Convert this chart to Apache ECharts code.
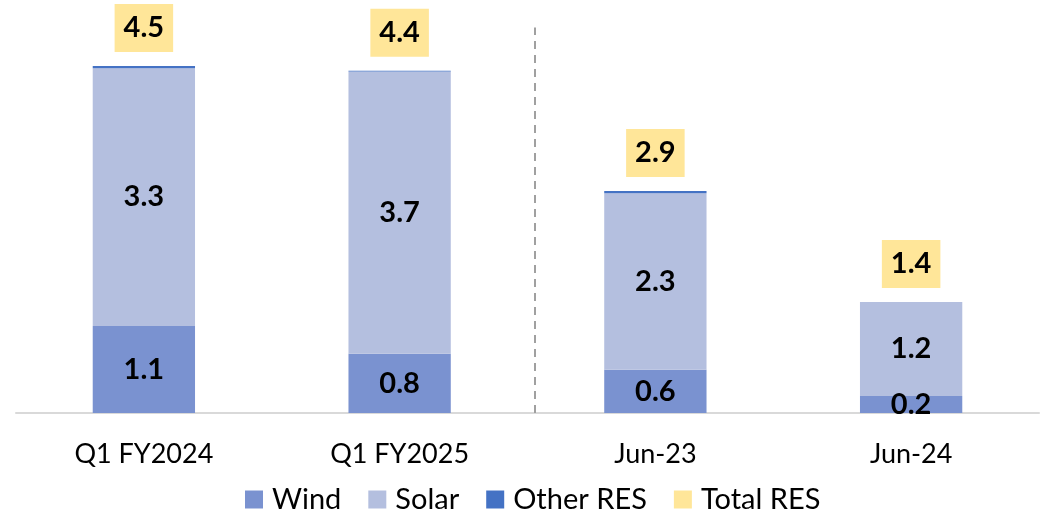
<!DOCTYPE html>
<html>
<head>
<meta charset="utf-8">
<script src="https://cdn.jsdelivr.net/npm/echarts@6/dist/echarts.min.js"></script>
<style>
  html, body { margin: 0; padding: 0; background: #fff; }
  #chart { width: 1040px; height: 513px; }
</style>
</head>
<body>
<div id="chart"></div>
<script>
// Renewable generation by source (TWh)
const categories = ['Q1 FY2024', 'Q1 FY2025', 'Jun-23', 'Jun-24'];
const wind     = [1.13, 0.77, 0.56, 0.22];
const solar    = [3.34, 3.66, 2.29, 1.22];
const otherRes = [0.03, 0.01, 0.03, 0.00];
const totalRes = [4.50, 4.44, 2.88, 1.44];
// Separator between the quarterly and monthly groups (category units)
const dividerAt = 2.03;

const FONT = 'Lato';
const fmt = p => Number(p.value).toFixed(1);

const chart = echarts.init(document.getElementById('chart'), null, { renderer: 'canvas' });

const innerLabel = {
  show: true,
  position: 'inside',
  formatter: fmt,
  fontFamily: FONT,
  fontWeight: 'bold',
  fontSize: 29,
  color: '#000'
};

chart.setOption({
  animation: false,
  backgroundColor: '#fff',
  grid: { left: 16, right: 1, top: 27.5, bottom: 100, containLabel: false },
  legend: {
    data: ['Wind', 'Solar', 'Other RES', 'Total RES'],
    left: 240,
    top: 480,
    icon: 'rect',
    itemWidth: 18,
    itemHeight: 18,
    itemGap: 27,
    textStyle: { fontFamily: FONT, fontSize: 29, color: '#000', padding: [0, 0, 0, 4] },
    selectedMode: false
  },
  xAxis: [
    {
      type: 'category',
      data: categories,
      axisLine: { show: true, lineStyle: { color: '#D9D9D9', width: 2 } },
      axisTick: { show: false },
      axisLabel: { fontFamily: FONT, fontSize: 27, color: '#000', margin: 28 }
    },
    { type: 'value', min: 0, max: 4, show: false }
  ],
  yAxis: {
    type: 'value',
    min: 0,
    max: 5,
    show: false,
    splitLine: { show: false }
  },
  series: [
    {
      name: 'Wind',
      type: 'bar',
      stack: 'res',
      barWidth: '40%',
      data: wind,
      itemStyle: { color: '#7A92D0' },
      label: innerLabel
    },
    {
      name: 'Solar',
      type: 'bar',
      stack: 'res',
      barWidth: '40%',
      data: solar,
      itemStyle: { color: '#B4BFDF' },
      label: innerLabel
    },
    {
      name: 'Other RES',
      type: 'bar',
      stack: 'res',
      barWidth: '40%',
      data: otherRes,
      itemStyle: { color: '#4472C4' }
    },
    {
      name: 'Total RES',
      type: 'scatter',
      data: totalRes,
      symbolSize: 0,
      itemStyle: { color: '#FFE699', opacity: 1 },
      label: {
        show: true,
        position: 'top',
        distance: 14,
        formatter: fmt,
        fontFamily: FONT,
        fontWeight: 'bold',
        fontSize: 29,
        color: '#000',
        opacity: 1,
        backgroundColor: '#FFE699',
        padding: [7, 9, 7, 9],
        lineHeight: 34
      },
      z: 5
    },
    {
      name: 'divider',
      type: 'line',
      xAxisIndex: 1,
      data: [],
      silent: true,
      markLine: {
        silent: true,
        symbol: 'none',
        label: { show: false },
        lineStyle: { color: '#A0A0A0', width: 2, type: [8, 6] },
        data: [{ xAxis: dividerAt }]
      }
    }
  ]
});
</script>
</body>
</html>
